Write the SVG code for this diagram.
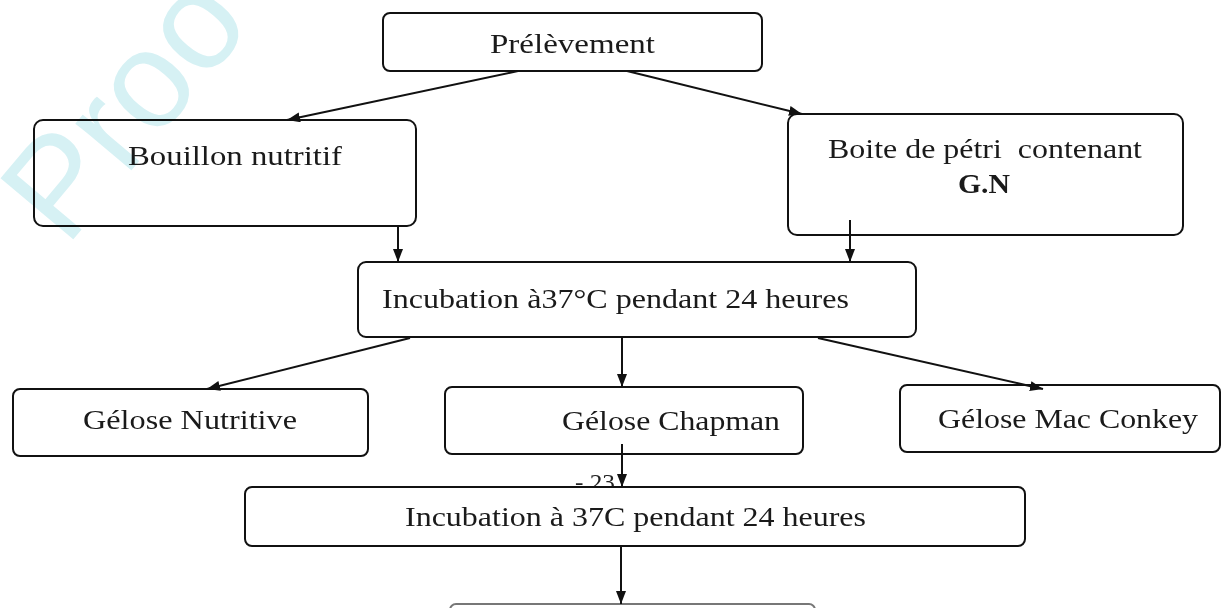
<svg xmlns="http://www.w3.org/2000/svg" width="1222" height="608" viewBox="0 0 1222 608">
<style>
.box{fill:#fff;stroke:#111;stroke-width:2}
.t{font-family:"Liberation Serif","Times New Roman",serif;font-size:28px;fill:#1a1a1a;white-space:pre}
.b{font-weight:bold}
.c{stroke:#111;stroke-width:2;fill:none;marker-end:url(#ah)}
.wm{font-family:"Liberation Sans",Arial,sans-serif;font-size:138px;fill:#d6f1f4;mix-blend-mode:multiply}
</style>
<defs>
<marker id="ah" markerUnits="userSpaceOnUse" markerWidth="14" markerHeight="12" refX="13" refY="5" orient="auto">
<path d="M0,0 L13,5 L0,10 z" fill="#111"/>
</marker>
</defs>
<rect width="1222" height="608" fill="#fff"/>
<text x="575" y="490" textLength="40" lengthAdjust="spacingAndGlyphs" style="font-family:'Liberation Serif',serif;font-size:24px;fill:#222">- 23</text>
<g id="prelevement"><rect class="box" x="383" y="13" width="379" height="58" rx="7"/><text class="t" x="490" y="53" textLength="165" lengthAdjust="spacingAndGlyphs">Prélèvement</text></g>
<g id="bouillon"><rect class="box" x="34" y="120" width="382" height="106" rx="9"/><text class="t" x="128" y="165" textLength="214" lengthAdjust="spacingAndGlyphs">Bouillon nutritif</text></g>
<g id="boite"><rect class="box" x="788" y="114" width="395" height="121" rx="9"/><text class="t" x="828" y="158" textLength="314" lengthAdjust="spacingAndGlyphs">Boite de pétri  contenant</text><text class="t b" x="958" y="193" textLength="52" lengthAdjust="spacingAndGlyphs">G.N</text></g>
<g id="incubation1"><rect class="box" x="358" y="262" width="558" height="75" rx="8"/><text class="t" x="382" y="308" textLength="467" lengthAdjust="spacingAndGlyphs">Incubation à37°C pendant 24 heures</text></g>
<g id="gelose-nutritive"><rect class="box" x="13" y="389" width="355" height="67" rx="7"/><text class="t" x="83" y="429" textLength="214" lengthAdjust="spacingAndGlyphs">Gélose Nutritive</text></g>
<g id="gelose-chapman"><rect class="box" x="445" y="387" width="358" height="67" rx="7"/><text class="t" x="562" y="430" textLength="218" lengthAdjust="spacingAndGlyphs">Gélose Chapman</text></g>
<g id="gelose-macconkey"><rect class="box" x="900" y="385" width="320" height="67" rx="7"/><text class="t" x="938" y="428" textLength="260" lengthAdjust="spacingAndGlyphs">Gélose Mac Conkey</text></g>
<g id="incubation2"><rect class="box" x="245" y="487" width="780" height="59" rx="7"/><text class="t" x="405" y="526" textLength="461" lengthAdjust="spacingAndGlyphs">Incubation à 37C pendant 24 heures</text></g>
<g id="next"><rect x="450" y="604" width="365" height="60" rx="6" fill="#fff" stroke="#777" stroke-width="2"/></g>
<g id="connectors">
<path class="c" d="M518,71 L287,120"/>
<path class="c" d="M627,71 L802,114"/>
<path class="c" d="M398,226 L398,262"/>
<path class="c" d="M850,220 L850,262"/>
<path class="c" d="M410,338 L207,389"/>
<path class="c" d="M622,338 L622,387"/>
<path class="c" d="M818,338 L1043,389"/>
<path class="c" d="M622,444 L622,487"/>
<path class="c" d="M621,546 L621,604"/>
</g>
<text class="wm" x="66" y="248" transform="rotate(-50 66 248)">Proo</text>
</svg>
